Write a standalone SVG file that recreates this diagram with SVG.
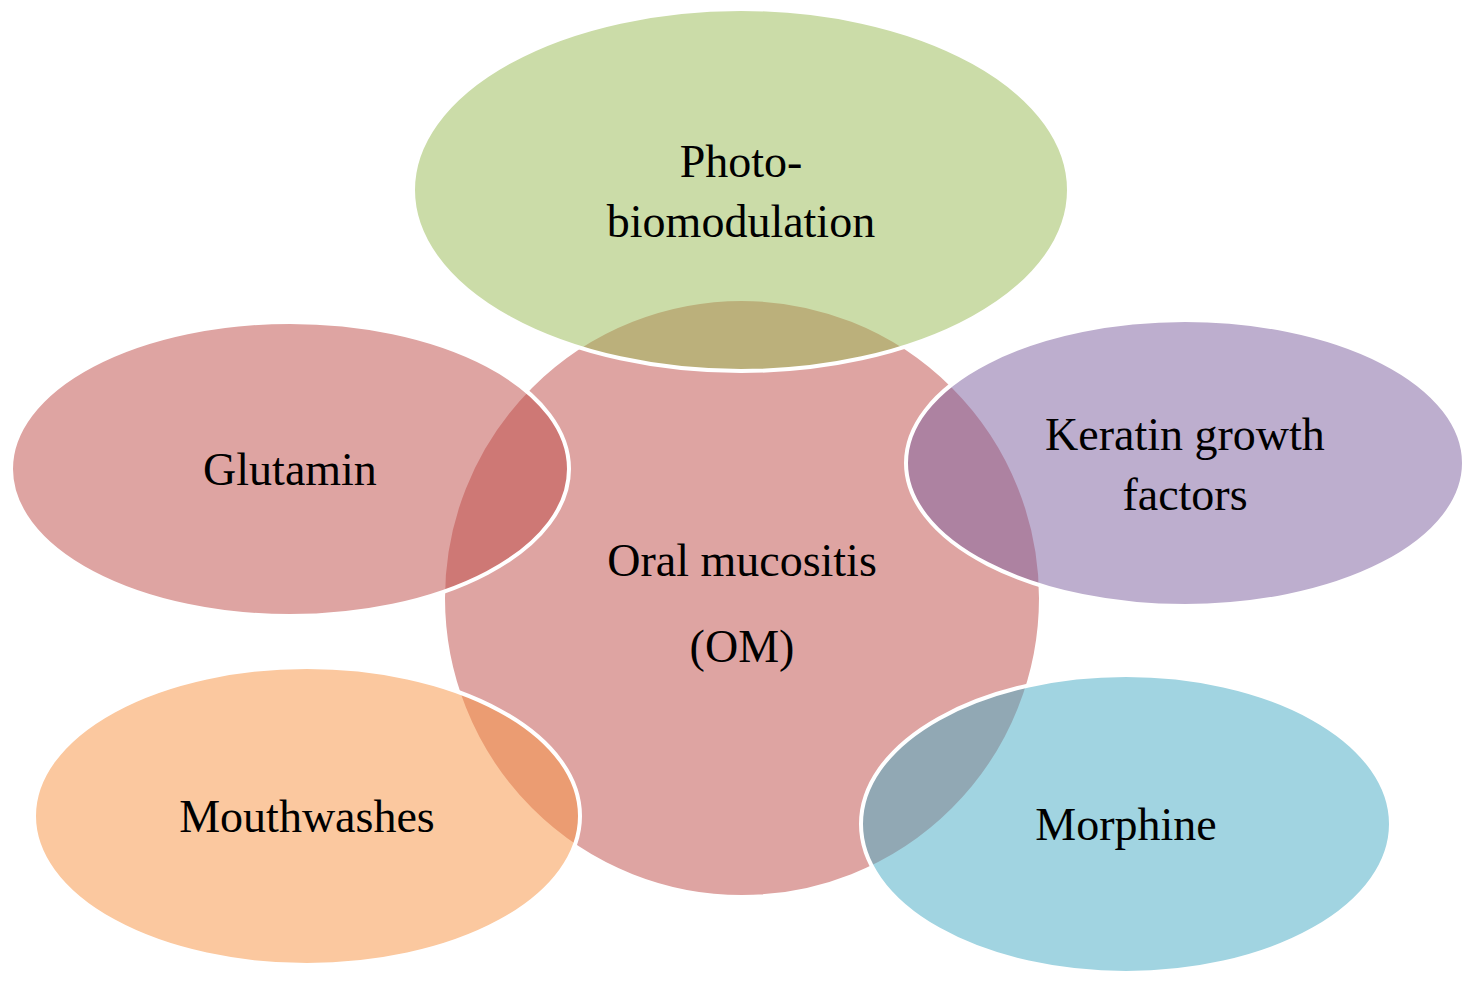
<svg xmlns="http://www.w3.org/2000/svg" width="1473" height="984" viewBox="0 0 1473 984">
<style>
.n{stroke:#fff;stroke-width:4;fill-opacity:0.52}
text{font-family:"Liberation Serif","Times New Roman",serif;font-size:46px;fill:#000;text-anchor:middle}
</style>
<rect width="1473" height="984" fill="#fff"/>
<g id="center"><circle class="n" cx="742" cy="598" r="299" fill="#c0504d"/></g>
<g id="photo"><ellipse class="n" cx="741" cy="190" rx="328" ry="181" fill="#9bbb59"/><text x="741" y="177">Photo-</text><text x="741" y="237">biomodulation</text></g>
<g id="glutamin"><ellipse class="n" cx="290" cy="469" rx="279" ry="147" fill="#c0504d"/><text x="290" y="485">Glutamin</text></g>
<g id="keratin"><ellipse class="n" cx="1185" cy="463" rx="279" ry="143" fill="#8064a2"/><text x="1185" y="450">Keratin growth</text><text x="1185" y="510">factors</text></g>
<g id="mouthwashes"><ellipse class="n" cx="307" cy="816" rx="273" ry="149" fill="#f79646"/><text x="307" y="832">Mouthwashes</text></g>
<g id="morphine"><ellipse class="n" cx="1126" cy="824" rx="265" ry="149" fill="#4bacc6"/><text x="1126" y="840">Morphine</text></g>
<g id="centerlabel"><text x="742" y="576">Oral mucositis</text><text x="742" y="662">(OM)</text></g>
<g id="connectors"/>
</svg>
